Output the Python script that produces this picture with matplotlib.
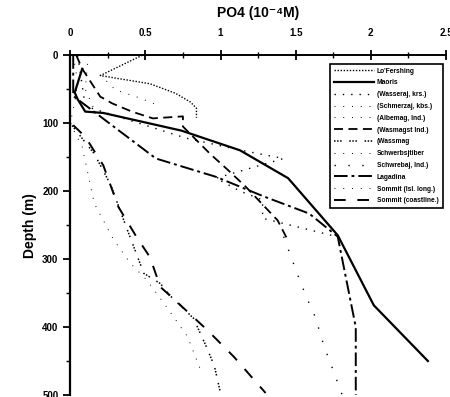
import numpy as np
import matplotlib
matplotlib.use('Agg')
import matplotlib.pyplot as plt

plt.rcParams['font.family'] = ['Liberation Sans', 'DejaVu Sans']
plt.rcParams['font.weight'] = 'bold'

# PO4 profiles (x = PO4, d = depth in m)
names = ["Lo'Fershing", "Maoris", "(Wasseraj, krs.)", "(Schmerzaj, kbs.)",
         "(Albemag, lnd.)", "(Wasmagst lnd.)", "(Wassmag", "Schwerbsjtiber",
         "Schwrebaj, lnd.)", "Lagadina", "Sommit (Isl. long.)", "Sommit (coastline.)"]

x1 = [0.48, 0.2, 0.53, 0.7, 0.8, 0.84, 0.84]
d1 = [0, 30, 42, 56, 69, 78, 92]

x2 = [0.08, 0.03, 0.05, 0.1, 0.22, 0.74, 1.13, 1.45, 1.78, 2.02, 2.38]
d2 = [20, 55, 65, 83, 85, 111, 140, 181, 265, 368, 450]

x3 = [0.05, 0.1, 0.77, 1.14, 1.42, 0.97, 1.13, 1.28, 1.28, 1.83]
d3 = [0, 75, 122, 140, 152, 181, 200, 213, 240, 270]

x4 = [0.0, 0.08, 0.16, 0.29, 0.4, 0.51, 0.64, 0.78, 0.88]
d4 = [100, 135, 218, 272, 306, 331, 370, 414, 470]

x5 = [0.02, 0.05, 0.03, 0.0]
d5 = [0, 40, 70, 100]

x6 = [0.04, 0.08, 0.2, 0.28, 0.41, 0.55, 0.75, 0.75, 0.93, 1.05, 1.17, 1.38, 1.45]
d6 = [0, 20, 61, 71, 83, 93, 90, 105, 145, 169, 194, 243, 273]

x7 = [0.0, 0.16, 0.27, 0.38, 0.49, 0.6, 0.67, 0.82, 0.91, 0.96, 1.0]
d7 = [100, 145, 191, 257, 321, 336, 355, 387, 431, 458, 497]

x8 = [0.2, 0.3, 0.45, 0.6]
d8 = [29, 51, 62, 75]

x9 = [1.42, 1.53, 1.58, 1.63, 1.69, 1.74, 1.81]
d9 = [267, 333, 360, 385, 429, 458, 500]

x10 = [0.02, 0.02, 0.57, 0.97, 1.29, 1.59, 1.78, 1.9, 1.9]
d10 = [0, 60, 152, 179, 208, 233, 267, 400, 500]

x11 = [0.12, 0.1, 0.16]
d11 = [0, 50, 80]

x12 = [0.02, 0.1, 0.22, 0.32, 0.44, 0.53, 0.6, 0.71, 0.91, 1.09, 1.3]
d12 = [103, 120, 162, 223, 267, 297, 341, 363, 404, 444, 497]

xs = [x1, x2, x3, x4, x5, x6, x7, x8, x9, x10, x11, x12]
ds = [d1, d2, d3, d4, d5, d6, d7, d8, d9, d10, d11, d12]
styles = [(0, (1, 1.2)), '-', (0, (1, 5)), (0, (1, 8)), (0, (1, 8)), (0, (5, 3)),
          (0, (1, 1, 1, 1, 1, 5)), (0, (1, 8)), (0, (1, 9)), (0, (7, 2, 1.5, 2)),
          (0, (1, 8)), (0, (6, 6))]
widths = [1.0, 1.6, 1.0, 0.7, 0.7, 1.3, 1.1, 0.7, 1.0, 1.4, 0.7, 1.4]

fig = plt.figure(figsize=(4.5, 3.97), dpi=100)
ax = fig.add_axes([0.156, 0.005, 0.835, 0.856])

for x, d, ls, lw, nm in zip(xs, ds, styles, widths, names):
    ax.plot(x, d, color='black', linestyle=ls, linewidth=lw, label=nm)

ax.set_xlim(0, 2.5)
ax.set_ylim(500, 0)
ax.xaxis.tick_top()
ax.xaxis.set_label_position('top')
ax.set_xticks([0, 0.5, 1, 1.5, 2, 2.5])
ax.set_xticklabels(['0', '0.5', '1', '1.5', '2', '2.5'])
ax.set_xticks(np.arange(0.25, 2.5, 0.5), minor=True)
ax.set_yticks([0, 100, 200, 300, 400, 500])
ax.set_yticks([50, 150, 250, 350, 450], minor=True)
ax.tick_params(axis='x', which='major', direction='inout', length=7, width=1.3, labelsize=7, pad=9)
ax.tick_params(axis='x', which='minor', direction='inout', length=5, width=1, top=True)
ax.tick_params(axis='y', which='major', direction='out', length=5, width=1.3, labelsize=7)
ax.tick_params(axis='y', which='minor', direction='out', length=3, width=1)
for lab in ax.get_xticklabels() + ax.get_yticklabels():
    lab.set_fontweight('bold')

for s in ['right', 'bottom']:
    ax.spines[s].set_visible(False)
ax.spines['left'].set_linewidth(1.6)
ax.spines['top'].set_linewidth(1.4)

ax.set_xlabel('PO4 (10\u207b\u2074M)', fontsize=10, fontweight='bold', labelpad=8)
ax.set_ylabel('Depth (m)', fontsize=10, fontweight='bold', labelpad=4)

leg = ax.legend(loc='upper right', bbox_to_anchor=(1.0, 0.985), fontsize=4.8,
                handlelength=6.0, handletextpad=0.5, labelspacing=0.72, borderpad=0.6,
                fancybox=False, framealpha=1, edgecolor='black')
leg.get_frame().set_linewidth(1.2)

fig.savefig('out.png', dpi=100)
